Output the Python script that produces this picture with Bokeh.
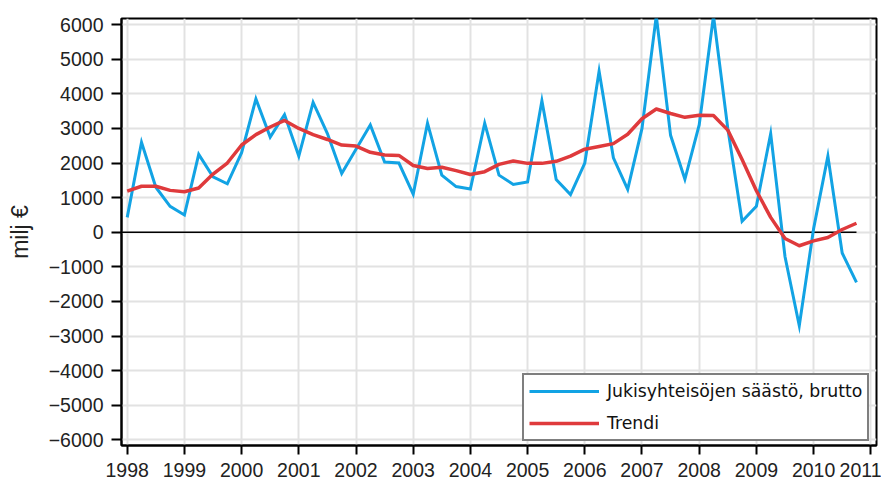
from bokeh.plotting import figure
from bokeh.models import FixedTicker, Range1d, Legend, LegendItem
from bokeh.embed import file_html
from bokeh.resources import INLINE

# ---- data (quarterly, 1998Q1 .. 2010Q4), milj € ----
years = list(range(1998, 2011))
quarters = [y + q / 4 for y in years for q in range(4)]

saving = [
    430, 2600, 1300, 750,      # 1998
    500, 2250, 1600, 1400,     # 1999
    2300, 3850, 2750, 3400,    # 2000
    2200, 3750, 2850, 1700,    # 2001
    2400, 3100, 2030, 2000,    # 2002
    1100, 3150, 1650, 1320,    # 2003
    1250, 3150, 1650, 1380,    # 2004
    1450, 3800, 1520, 1090,    # 2005
    2000, 4650, 2150, 1240,    # 2006
    3000, 6250, 2800, 1530,    # 2007
    3100, 6250, 3000, 320,     # 2008
    750, 2850, -700, -2700,    # 2009
    100, 2200, -600, -1450,    # 2010
]

trend = [
    1190, 1330, 1330, 1210,
    1170, 1280, 1680, 2000,
    2520, 2820, 3040, 3230,
    3000, 2820, 2680, 2520,
    2490, 2310, 2230, 2220,
    1930, 1840, 1880, 1780,
    1670, 1750, 1960, 2060,
    1990, 1990, 2050, 2200,
    2400, 2480, 2560, 2830,
    3280, 3560, 3430, 3320,
    3380, 3370, 2950, 2100,
    1200, 430, -180, -390,
    -250, -150, 80, 260,
]

zero_level = [0, 0]
x_ticks = list(range(1998, 2012))
y_ticks = list(range(-6000, 7000, 1000))

series_label = "Jukisyhteisöjen säästö, brutto"
trend_label = "Trendi"
y_label = "milj €"

BLUE = "#12A3E4"
RED = "#DF3A3C"

p = figure(
    width=881, height=484,
    output_backend="svg", toolbar_location=None,
    x_range=Range1d(1997.9, 2011.1),
    y_range=Range1d(-6160, 6175),
    min_border_left=121, min_border_right=5,
    min_border_top=18, min_border_bottom=39,
)

p.background_fill_color = "white"
p.border_fill_color = "white"
p.outline_line_color = "black"
p.outline_line_width = 2
p.outline_line_alpha = 1

# grid
for g in (p.xgrid, p.ygrid):
    g.grid_line_color = "#e2e2e2"
    g.grid_line_width = 2

# axes
p.xaxis.ticker = FixedTicker(ticks=x_ticks, minor_ticks=[])
p.yaxis.ticker = FixedTicker(ticks=y_ticks, minor_ticks=[])
for ax in (p.xaxis, p.yaxis):
    ax.axis_line_color = "black"
    ax.axis_line_width = 2
    ax.major_tick_line_color = "black"
    ax.major_tick_line_width = 2
    ax.major_tick_in = 0
    ax.minor_tick_out = 0
    ax.minor_tick_in = 0
    ax.major_label_text_font = "Liberation Sans"
    ax.major_label_text_font_size = "19.5px"
    ax.major_label_text_color = "#222222"

p.xaxis.major_tick_out = 9
p.xaxis.major_label_standoff = 8
p.yaxis.major_tick_out = 10
p.yaxis.major_label_standoff = 8

p.yaxis.axis_label = y_label
p.yaxis.axis_label_text_font = "Liberation Sans"
p.yaxis.axis_label_text_font_size = "23px"
p.yaxis.axis_label_text_font_style = "normal"
p.yaxis.axis_label_text_color = "#222222"
p.yaxis.axis_label_standoff = 13

# zero line from frame start to last quarter
p.line(x=[p.x_range.start, quarters[-1]], y=zero_level, line_color="black", line_width=1.5)

r1 = p.line(quarters, saving, line_color=BLUE, line_width=3, line_join="miter")
r2 = p.line(quarters, trend, line_color=RED, line_width=3.5, line_join="round")

legend = Legend(
    items=[LegendItem(label=series_label, renderers=[r1]),
           LegendItem(label=trend_label, renderers=[r2])],
    location=(401, 4),
    margin=0,
    padding=5,
    spacing=10,
    glyph_width=70,
    glyph_height=20,
    label_height=22,
    label_standoff=8,
    label_text_font="DejaVu Sans",
    label_text_font_size="17.3px",
    label_text_color="#111111",
    border_line_color="black",
    border_line_width=2,
    background_fill_color="white",
    background_fill_alpha=1,
)
p.add_layout(legend)

open("out.html", "w").write(file_html(p, INLINE))
